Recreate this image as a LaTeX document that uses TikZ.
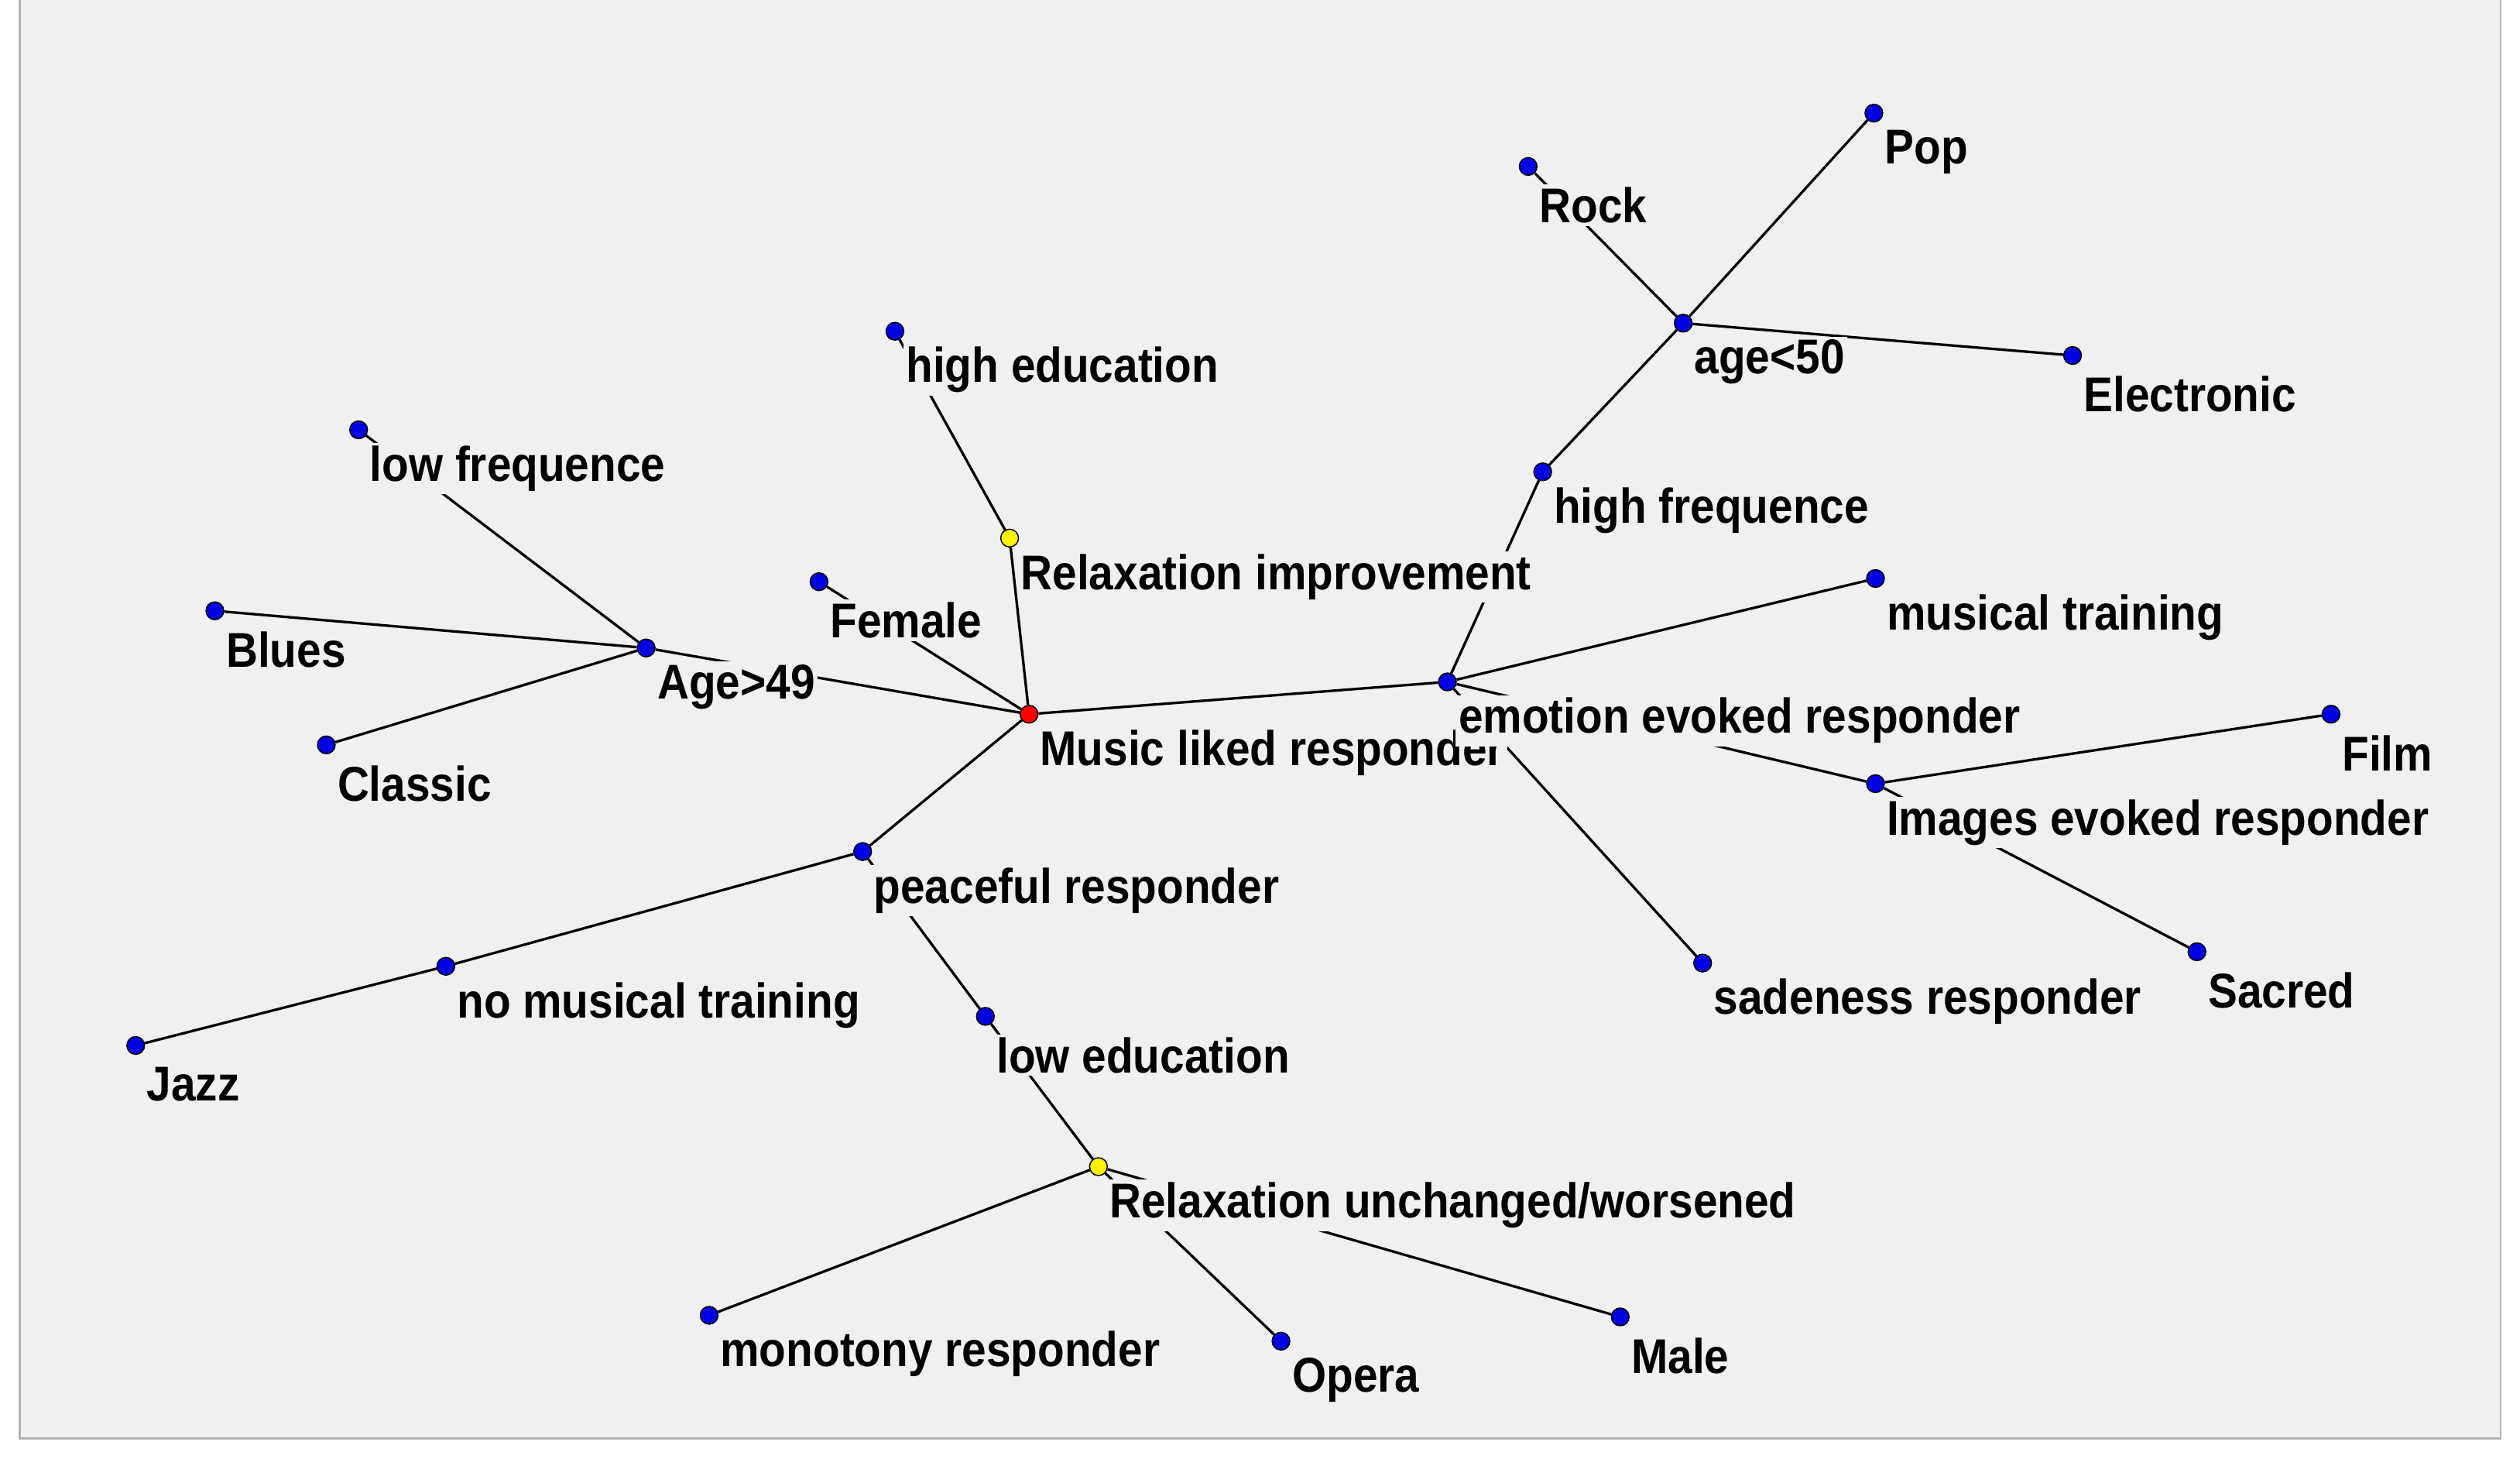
\documentclass[tikz,border=0pt]{standalone}
\usepackage{fontspec}
\setmainfont{Liberation Sans}[FakeStretch=0.9]
\definecolor{bg}{HTML}{F0F0F0}
\definecolor{dotb}{HTML}{0000E0}
\begin{document}
\begin{tikzpicture}[x=0.1mm,y=-0.1mm,
  dot/.style={circle,draw=black,line width=0.2pt,inner sep=0pt,minimum size=1.1mm,fill=dotb},
  lab/.style={anchor=west,fill=bg,inner sep=0.5pt,font=\fontsize{8.6}{9}\selectfont\bfseries},
  edge/.style={line width=0.45pt,black}]
\useasboundingbox (0,0) rectangle (1560,902.5);
\fill[white] (0,0) rectangle (1560,902.5);
\filldraw[fill=bg,draw=gray!60,line width=0.4pt] (12,-2) rectangle (1548,890);
\newcommand\pt[3]{\node[dot] (#1) at (#2,#3) {};}
\node[dot,fill=red] (mus) at (637,442) {};
\pt{age49}{400}{401}\pt{lowf}{222}{266}\pt{blues}{133}{378}
\pt{classic}{202}{461}\pt{female}{507}{360}\pt{hedu}{554}{205}
\node[dot,fill=yellow] (relimp) at (625,333) {};
\pt{emo}{896}{422}\pt{highf}{955}{292}\pt{age50}{1042}{200}\pt{rock}{946}{103}
\pt{pop}{1160}{70}\pt{elec}{1283}{220}\pt{mtrain}{1161}{358}\pt{img}{1161}{485}
\pt{film}{1443}{442}\pt{sacred}{1360}{589}\pt{sad}{1054}{596}\pt{peace}{534}{527}
\pt{nomt}{276}{598}\pt{jazz}{84}{647}\pt{ledu}{610}{629}
\node[dot,fill=yellow] (relun) at (680,722) {};
\pt{mono}{439}{814}\pt{opera}{793}{830}\pt{male}{1003}{815}
\foreach \a/\b in {mus/age49,age49/lowf,age49/blues,age49/classic,mus/female,mus/relimp,relimp/hedu,mus/emo,emo/highf,highf/age50,age50/rock,age50/pop,age50/elec,emo/mtrain,emo/img,img/film,img/sacred,emo/sad,mus/peace,peace/nomt,nomt/jazz,peace/ledu,ledu/relun,relun/mono,relun/opera,relun/male}
  \draw[edge] (\a) -- (\b);
\newcommand\lb[2]{\node[lab] (l#1) at ([xshift=0.45mm,yshift=-2.4mm]#1.center) {#2};}
\lb{mus}{Music liked responder}\lb{age49}{Age>49}\lb{lowf}{low frequence}\lb{blues}{Blues}
\lb{classic}{Classic}\lb{female}{Female}\lb{hedu}{high education}\lb{relimp}{Relaxation improvement}
\lb{emo}{emotion evoked responder}\lb{highf}{high frequence}\lb{age50}{age<50}\lb{rock}{Rock}
\lb{pop}{Pop}\lb{elec}{Electronic}\lb{mtrain}{musical training}\lb{img}{Images evoked responder}
\lb{film}{Film}\lb{sacred}{Sacred}\lb{sad}{sadeness responder}\lb{peace}{peaceful responder}
\lb{nomt}{no musical training}\lb{jazz}{Jazz}\lb{ledu}{low education}\lb{relun}{Relaxation unchanged/worsened}
\lb{mono}{monotony responder}\lb{opera}{Opera}\lb{male}{Male}
\end{tikzpicture}
\end{document}
